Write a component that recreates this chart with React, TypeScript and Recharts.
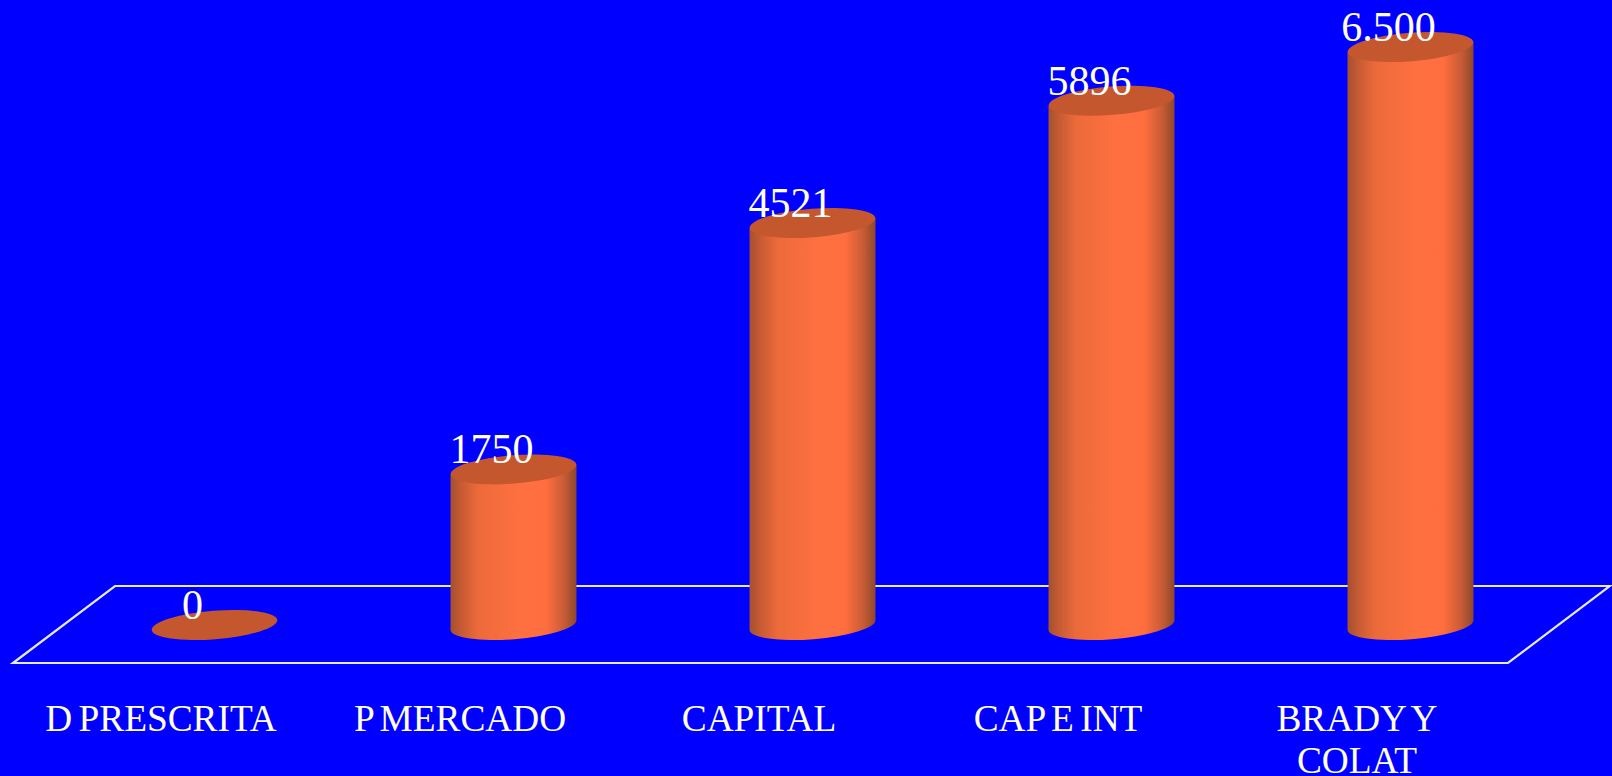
import { BarChart, Bar, XAxis, YAxis, LabelList } from "recharts";

const categories = ["D PRESCRITA", "P MERCADO", "CAPITAL", "CAP E INT", "BRADY Y\nCOLAT"];
const values = [0, 1750, 4521, 5896, 6500];
const valueLabels = ["0", "1750", "4521", "5896", "6.500"];

const chartData = categories.map((name, i) => ({
  name,
  value: values[i],
  label: valueLabels[i],
}));

const SERIF = '"Liberation Serif", "Times New Roman", serif';
const TILT = -4.5;
const RY = 14.2;

// 3D-looking column, the flat bar rectangle from the scale is used as the axis of the cylinder
const Cylinder = ({ x, y, width, height }: any) => {
  const rx = width / 2;
  const cx = x + rx;
  const lift = rx * Math.sin((TILT * Math.PI) / 180);
  const body = `M${x},${y - lift} L${x},${y + height - lift} A${rx},${RY} ${TILT} 0 0 ${x + width},${y + height + lift} L${x + width},${y + lift} Z`;
  return (
    <g>
      {height > 0 && <path d={body} fill="url(#cylinderSide)" />}
      <ellipse cx={cx} cy={y} rx={rx} ry={RY} fill="#C4572D" transform={`rotate(${TILT} ${cx} ${y})`} />
    </g>
  );
};

const ValueLabel = ({ x, y, width, value }: any) => (
  <text x={x + width / 2 - 22} y={y - 6} textAnchor="middle" fill="#fff" fontFamily={SERIF} fontSize={42}>
    {value}
  </text>
);

const CategoryTick = ({ x, y, payload }: any) => (
  <text fill="#fff" fontFamily={SERIF} fontSize={37.3} textAnchor="middle" wordSpacing={-3}>
    {String(payload.value)
      .split("\n")
      .map((line, i) => (
        <tspan key={line} x={x - 53} y={y + 98 + i * 42}>
          {line}
        </tspan>
      ))}
  </text>
);

export default function App() {
  return (
    <div style={{ position: "fixed", left: 0, top: 0, width: 1612, height: 776, background: "#0000FF" }}>
      <BarChart
        width={1612}
        height={776}
        data={chartData}
        margin={{ top: 47, right: 52.5, bottom: 0, left: 64.5 }}
        barCategoryGap={0}
      >
        <defs>
          <linearGradient id="cylinderSide" x1="0" y1="0" x2="1" y2="0">
            <stop offset="0%" stopColor="#A4502E" />
            <stop offset="8%" stopColor="#C45A34" />
            <stop offset="22%" stopColor="#EC6A3A" />
            <stop offset="38%" stopColor="#F66D3D" />
            <stop offset="55%" stopColor="#FF7040" />
            <stop offset="76%" stopColor="#FF6E3E" />
            <stop offset="90%" stopColor="#C85C36" />
            <stop offset="100%" stopColor="#8E4829" />
          </linearGradient>
        </defs>
        <polygon points="115,586 1610,586 1508,663 13,663" fill="none" stroke="#E8E8FF" strokeWidth={2.2} />
        <XAxis
          dataKey="name"
          interval={0}
          axisLine={false}
          tickLine={false}
          height={151}
          tick={<CategoryTick />}
        />
        <YAxis hide domain={[0, 6500]} />
        <Bar dataKey="value" barSize={126} shape={<Cylinder />} isAnimationActive={false}>
          <LabelList dataKey="label" content={<ValueLabel />} />
        </Bar>
      </BarChart>
    </div>
  );
}
